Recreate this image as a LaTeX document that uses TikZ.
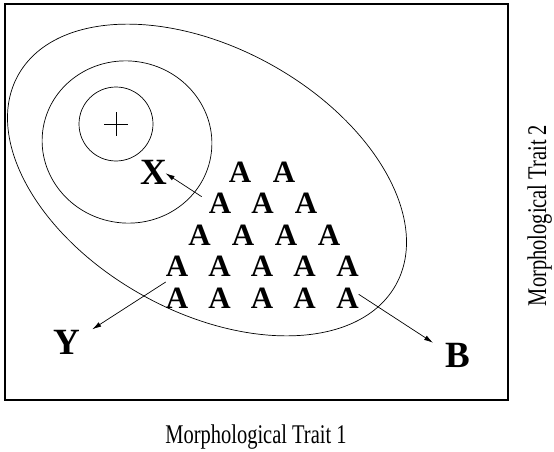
\documentclass[tikz,border=0pt]{standalone}
\usepackage{fontspec}
\setmainfont{Liberation Serif}
\usetikzlibrary{arrows.meta}
\tikzset{
  letA/.style={font=\fontsize{31}{31}\selectfont\bfseries, inner sep=0pt},
  biglab/.style={font=\fontsize{37}{37}\selectfont\bfseries, inner sep=0pt},
  axlab/.style={font=\fontsize{27}{27}\selectfont, inner sep=0pt},
  contour/.style={line width=0.7pt},
  arr/.style={line width=0.7pt, -{Latex[length=9pt,width=5pt]}},
  frame/.style={line width=1.1pt}
}
\begin{document}
\begin{tikzpicture}[x=1pt,y=-1pt]
\useasboundingbox (0,0) rectangle (554,452);
\draw[frame] (5,4) rectangle (508,400);
% contours
\draw[contour, shift={(207,180)}, rotate=-29] (0,0) ellipse [x radius=216pt, y radius=132pt];
\draw[contour, shift={(127,142)}, rotate=-10] (0,0) ellipse [x radius=85pt, y radius=81pt];
\draw[contour] (116,124) circle [radius=37pt];
\draw[line width=0.6pt] (104,124) -- (128,124) (116,112) -- (116,136);
% A nodes
\foreach \x [count=\i] in {240,284} \node[letA] (a1\i) at (\x,172) {A};
\foreach \x [count=\i] in {220,262.5,306} \node[letA] (a2\i) at (\x,203.5) {A};
\foreach \x [count=\i] in {199.5,243,286,329} \node[letA] (a3\i) at (\x,235) {A};
\foreach \x [count=\i] in {177,219.5,262,304.5,347.5} \node[letA] (a4\i) at (\x,266.5) {A};
\foreach \x [count=\i] in {177,219.5,262,304.5,347.5} \node[letA] (a5\i) at (\x,298) {A};
% labels
\node[biglab] (X) at (154,172.5) {X};
\node[biglab] (Y) at (67,342) {Y};
\node[biglab] (B) at (458,355.5) {B};
% arrows
\coordinate (xs) at (201.7,196.7);
\coordinate (xt) at (165.7,173.3);
\coordinate (ys) at (165.7,282);
\coordinate (yt) at (92.3,329.3);
\coordinate (bs) at (358.7,294.3);
\coordinate (bt) at (433,342.7);
\draw[arr] (xs) -- (xt);
\draw[arr] (ys) -- (yt);
\draw[arr] (bs) -- (bt);
% axis labels
\node[axlab, anchor=base] (t1) at (256,443.3) {\scalebox{0.758}[1]{Morphological Trait 1}};
\node[axlab, anchor=base, rotate=90] (t2) at (546,215.5) {\scalebox{0.758}[1]{Morphological Trait 2}};
\end{tikzpicture}
\end{document}
